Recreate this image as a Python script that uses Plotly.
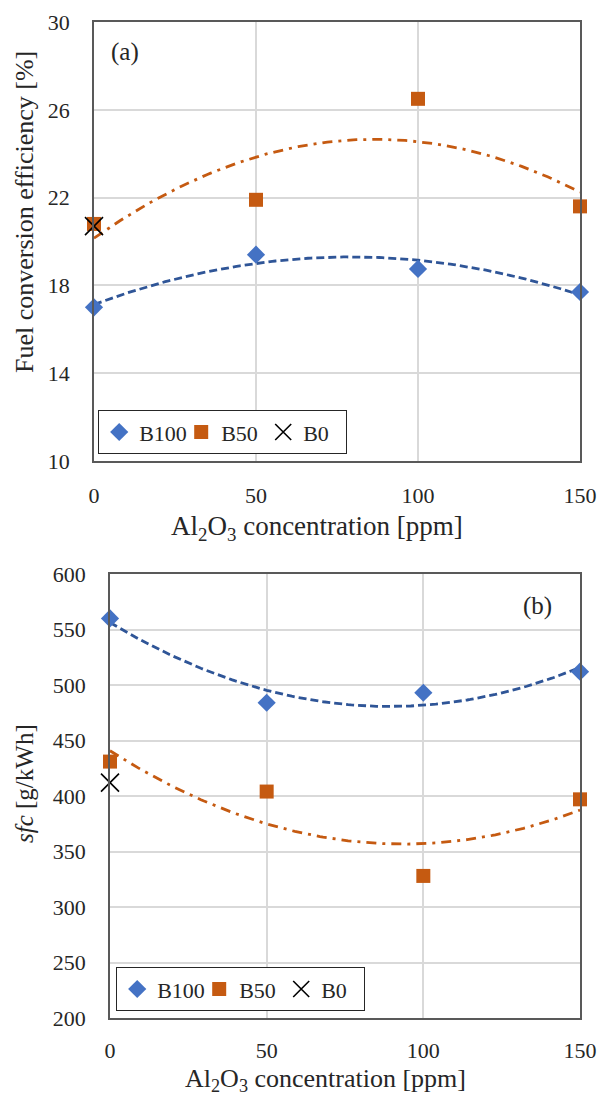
import numpy as np
import plotly.graph_objects as go

# ---- data ----
conc = [0, 50, 100, 150]
eff_b100 = [17.0, 19.4, 18.75, 17.7]
eff_b50 = [20.8, 21.9, 26.5, 21.6]
eff_b0 = [20.7]
sfc_b100 = [560, 484, 493, 512]
sfc_b50 = [431, 404, 328, 397]
sfc_b0 = [412]
conc_b0 = [0]
x_ticks = [0, 50, 100, 150]
eff_ticks = [10, 14, 18, 22, 26, 30]
sfc_ticks = [200, 250, 300, 350, 400, 450, 500, 550, 600]

BLUE = "#4472C4"
BLUE_LINE = "#2F5597"
ORANGE = "#C55A11"
FONT = "Liberation Serif"
TXT = "#262626"
W, H = 602, 1096

xs = np.linspace(0, 150, 151)

def trend(y):
    c = np.polyfit(conc, y, 2)
    return np.polyval(c, xs)

fig = go.Figure()

def add_panel(xa, ya, b100, b50, b0, legend):
    fig.add_trace(go.Scatter(x=xs, y=trend(b100), mode="lines", xaxis=xa, yaxis=ya,
                             line=dict(color=BLUE_LINE, width=2.8, dash="8px,4px"),
                             showlegend=False, hoverinfo="skip"))
    fig.add_trace(go.Scatter(x=xs, y=trend(b50), mode="lines", xaxis=xa, yaxis=ya,
                             line=dict(color=ORANGE, width=2.8, dash="10px,6px,3px,6px"),
                             showlegend=False, hoverinfo="skip"))
    fig.add_trace(go.Scatter(x=conc, y=b100, mode="markers", name="B100", xaxis=xa, yaxis=ya,
                             marker=dict(symbol="diamond", size=14, color=BLUE),
                             cliponaxis=False, legend=legend))
    fig.add_trace(go.Scatter(x=conc, y=b50, mode="markers", name="B50", xaxis=xa, yaxis=ya,
                             marker=dict(symbol="square", size=14, color=ORANGE),
                             cliponaxis=False, legend=legend))
    fig.add_trace(go.Scatter(x=conc_b0, y=b0, mode="markers", name="B0", xaxis=xa, yaxis=ya,
                             marker=dict(symbol="x-thin-open", size=18, color="black",
                                         line=dict(color="black", width=1.6)),
                             cliponaxis=False, legend=legend))

add_panel("x", "y", eff_b100, eff_b50, eff_b0, "legend")
add_panel("x2", "y2", sfc_b100, sfc_b50, sfc_b0, "legend2")

axis_common = dict(showline=True, linecolor="#595959", linewidth=1.5, mirror=True,
                   showgrid=True, gridcolor="#D9D9D9", gridwidth=1.5, zeroline=False,
                   ticks="", tickfont=dict(family=FONT, size=22, color=TXT),
                   automargin=False)

leg_common = dict(orientation="h", xanchor="left", yanchor="top",
                  bordercolor=TXT, borderwidth=1.2, bgcolor="white",
                  font=dict(family=FONT, size=22, color=TXT), itemwidth=30,
                  entrywidth=37, entrywidthmode="pixels",
                  tracegroupgap=0)

def ann(text, x, y, size, angle=0):
    return dict(text=text, xref="paper", yref="paper", x=x / W, y=1 - y / H,
                xanchor="center", yanchor="middle", textangle=angle,
                showarrow=False, font=dict(family=FONT, size=size, color=TXT))

xtitle_text = "Al<sub>2</sub>O<sub>3</sub> concentration [ppm]"

fig.update_layout(
    width=W, height=H,
    margin=dict(l=0, r=0, t=0, b=0),
    paper_bgcolor="white", plot_bgcolor="white",
    font=dict(family=FONT, size=22, color=TXT),
    xaxis=dict(domain=[94/W, 580/W], anchor="y", range=[0, 150], tickvals=x_ticks,
               ticklabelstandoff=14, **axis_common),
    yaxis=dict(domain=[1-461/H, 1-22/H], anchor="x", range=[10, 30], tickvals=eff_ticks,
               ticklabelstandoff=18, **axis_common),
    xaxis2=dict(domain=[110/W, 580/W], anchor="y2", range=[0, 150], tickvals=x_ticks,
                ticklabelstandoff=12, **axis_common),
    yaxis2=dict(domain=[1-1018/H, 1-574/H], anchor="x2", range=[200, 600], tickvals=sfc_ticks,
                ticklabelstandoff=18, **axis_common),
    legend=dict(x=98/W, y=1-410/H, **leg_common),
    legend2=dict(x=116/W, y=1-967/H, **leg_common),
    annotations=[
        ann("(a)", 125, 52, 25),
        ann("(b)", 537, 606, 25),
        ann(xtitle_text, 317, 528, 27),
        ann(xtitle_text, 325, 1080, 26),
        ann("Fuel conversion efficiency [%]", 24, 212, 26, -90),
        ann("<i>sfc</i> [g/kWh]", 24, 784, 25, -90),
    ],
)

fig.write_html("out.html", post_script="document.body.style.margin='0px';",
               config={"displayModeBar": False})
